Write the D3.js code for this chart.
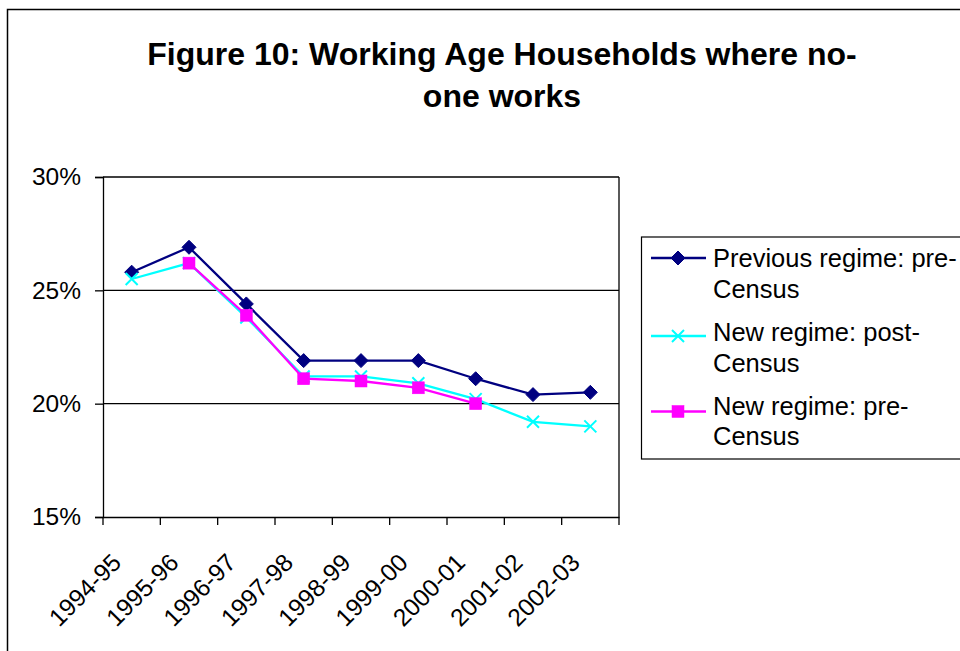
<!DOCTYPE html>
<html><head><meta charset="utf-8">
<script src="https://cdn.jsdelivr.net/npm/d3@7"></script>
<style>
html,body{margin:0;padding:0;background:#fff;}
svg{display:block;font-family:Arial,"Liberation Sans",sans-serif;}
</style></head>
<body>
<svg id="c" width="960" height="651"></svg>
<script>
const categories = ["1994-95","1995-96","1996-97","1997-98","1998-99","1999-00","2000-01","2001-02","2002-03"];
const previousPre = [25.8, 26.9, 24.4, 21.9, 21.9, 21.9, 21.1, 20.4, 20.5];
const newPost = [25.5, 26.2, 23.8, 21.2, 21.2, 20.9, 20.2, 19.2, 19.0];
const newPre = [null, 26.2, 23.9, 21.1, 21.0, 20.7, 20.0, null, null];
const yTicks = [15, 20, 25, 30];
const seriesNames = [["Previous regime: pre-","Census"],["New regime: post-","Census"],["New regime: pre-","Census"]];

const svg = d3.select("#c");
// outer chart border
svg.append("rect").attr("x",7.5).attr("y",9.5).attr("width",1000).attr("height",700)
  .attr("fill","none").attr("stroke","#000").attr("stroke-width",1.5);

// title
const title = svg.append("text").attr("text-anchor","middle").attr("font-weight","bold")
  .attr("font-size",32).attr("fill","#000");
title.append("tspan").attr("x",502).attr("y",65).text("Figure 10: Working Age Households where no-");
title.append("tspan").attr("x",502).attr("y",107).text("one works");

const L=103, R=619, T=177, B=517;
const x = d3.scaleBand().domain(categories).range([L,R]);
const y = d3.scaleLinear().domain([15,30]).range([B,T]);

// gridlines
svg.append("g").selectAll("line").data(yTicks.filter(d=>d!==15)).join("line")
  .attr("x1",L).attr("x2",R).attr("y1",d=>y(d)).attr("y2",d=>y(d))
  .attr("stroke","#000").attr("stroke-width",1.3);
svg.append("line").attr("x1",R).attr("x2",R).attr("y1",T).attr("y2",B).attr("stroke","#000").attr("stroke-width",1.3);

// y axis
const yAxis = svg.append("g").attr("transform",`translate(${L},0)`)
  .call(d3.axisLeft(y).tickValues(yTicks).tickFormat(d=>d+"%").tickSize(8).tickPadding(14));
yAxis.select(".domain").attr("stroke","#000").attr("stroke-width",1.3);
yAxis.selectAll(".tick line").attr("stroke","#000").attr("stroke-width",1.3);
yAxis.selectAll("text").attr("font-size",24.5).attr("font-family","Arial,'Liberation Sans',sans-serif").attr("fill","#000");

// x axis
const xAxis = svg.append("g").attr("transform",`translate(0,${B})`)
  .call(d3.axisBottom(x).tickSize(0).tickFormat(""));
xAxis.select(".domain").attr("stroke","#000").attr("stroke-width",1.3);
const edges = categories.map(c=>x(c)).concat([R]);
svg.append("g").selectAll("line").data(edges).join("line")
  .attr("x1",d=>d).attr("x2",d=>d).attr("y1",B).attr("y2",B+8)
  .attr("stroke","#000").attr("stroke-width",1.3);
svg.append("g").selectAll("text").data(categories).join("text")
  .attr("transform",d=>`translate(${x(d)+x.bandwidth()/2-15},${B+41}) rotate(-45)`)
  .attr("text-anchor","end").attr("dy","0.35em")
  .attr("font-size",24.5).attr("fill","#000").text(d=>d);

const cx = d => x(d)+x.bandwidth()/2;
const colors = ["#000080","#00FFFF","#FF00FF"];
const datasets = [previousPre, newPost, newPre];

function marker(g, type, color, px, py){
  if(type===0){
    g.append("path").attr("d",`M${px},${py-7}L${px+7},${py}L${px},${py+7}L${px-7},${py}Z`).attr("fill",color).attr("stroke",color).attr("stroke-width",1);
  } else if(type===1){
    g.append("path").attr("d",`M${px-6},${py-6}L${px+6},${py+6}M${px-6},${py+6}L${px+6},${py-6}`).attr("stroke",color).attr("stroke-width",2).attr("fill","none");
  } else {
    g.append("rect").attr("x",px-6).attr("y",py-6).attr("width",12).attr("height",12).attr("fill",color).attr("stroke",color).attr("stroke-width",0.5);
  }
}

datasets.forEach((vals,i)=>{
  const pts = categories.map((c,j)=>({c, v:vals[j]})).filter(p=>p.v!==null);
  const line = d3.line().x(p=>cx(p.c)).y(p=>y(p.v));
  const g = svg.append("g");
  g.append("path").attr("d",line(pts)).attr("fill","none").attr("stroke",colors[i]).attr("stroke-width",2.3);
  pts.forEach(p=>marker(g,i,colors[i],cx(p.c),y(p.v)));
});

// legend
svg.append("rect").attr("x",641.5).attr("y",237).attr("width",340).attr("height",222)
  .attr("fill","#fff").attr("stroke","#000").attr("stroke-width",1.2);
const legY = [258, 336, 411.5];
const legText = [[266.7, 298.3],[341, 371.7],[415, 445]];
seriesNames.forEach((nm,i)=>{
  const g = svg.append("g");
  g.append("line").attr("x1",651).attr("x2",706).attr("y1",legY[i]).attr("y2",legY[i]).attr("stroke",colors[i]).attr("stroke-width",2.3);
  marker(g,i,colors[i],678,legY[i]);
  const t = g.append("text").attr("font-size",25.5).attr("fill","#000");
  t.append("tspan").attr("x",713).attr("y",legText[i][0]).text(nm[0]);
  t.append("tspan").attr("x",713).attr("y",legText[i][1]).text(nm[1]);
});
</script>
</body></html>
